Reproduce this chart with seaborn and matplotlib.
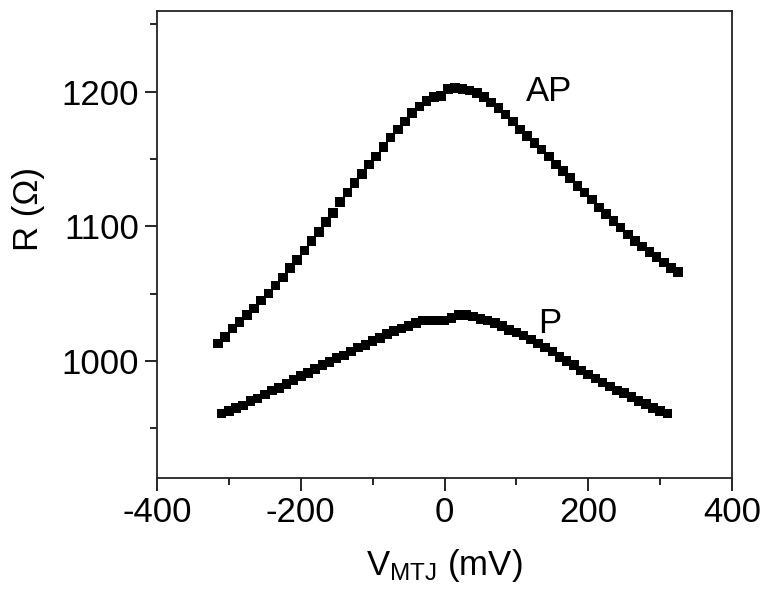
import numpy as np
import pandas as pd
import matplotlib
matplotlib.use("Agg")
import matplotlib.pyplot as plt
import seaborn as sns
from matplotlib.ticker import MultipleLocator

# ---- data ----
v_ap = [-315, -305, -295, -285, -275, -265, -255, -245, -235, -225,
        -215, -205, -195, -185, -175, -165, -155, -145, -135, -125,
        -115, -105, -95, -85, -75, -65, -55, -45, -35, -25,
        -15, -5, 5, 15, 25, 35, 45, 55, 65, 75,
        85, 95, 105, 115, 125, 135, 145, 155, 165, 175,
        185, 195, 205, 215, 225, 235, 245, 255, 265, 275,
        285, 295, 305, 315, 325]
r_ap = [1013, 1018, 1024, 1029, 1034, 1039, 1045, 1050, 1056, 1062,
        1069, 1075, 1082, 1089, 1096, 1103, 1110, 1118, 1125, 1132,
        1139, 1146, 1152, 1159, 1166, 1172, 1178, 1184, 1189, 1193,
        1196, 1197, 1202, 1203, 1202, 1201, 1199, 1196, 1192, 1188,
        1183, 1178, 1172, 1167, 1162, 1157, 1152, 1146, 1141, 1136,
        1130, 1125, 1120, 1114, 1109, 1104, 1099, 1094, 1089, 1085,
        1081, 1077, 1073, 1069, 1066]

v_p = [-310, -300, -290, -280, -270, -260, -250, -240, -230, -220,
       -210, -200, -190, -180, -170, -160, -150, -140, -130, -120,
       -110, -100, -90, -80, -70, -60, -50, -40, -30, -20,
       -10, 0, 10, 20, 30, 40, 50, 60, 70, 80,
       90, 100, 110, 120, 130, 140, 150, 160, 170, 180,
       190, 200, 210, 220, 230, 240, 250, 260, 270, 280,
       290, 300, 310]
r_p = [961, 963, 965, 967, 970, 972, 975, 978, 980, 983,
       986, 989, 991, 994, 997, 999, 1002, 1004, 1007, 1010,
       1012, 1015, 1017, 1020, 1022, 1024, 1026, 1028, 1030, 1030,
       1030, 1030, 1032, 1034, 1034, 1033, 1031, 1030, 1028, 1026,
       1023, 1021, 1019, 1016, 1013, 1010, 1007, 1003, 1000, 997,
       993, 990, 987, 984, 981, 978, 976, 973, 970, 968,
       965, 963, 961]

x_ticks = [-400, -200, 0, 200, 400]
y_ticks = [1000, 1100, 1200]

df = pd.concat([
    pd.DataFrame({"V": v_ap, "R": r_ap, "state": "AP"}),
    pd.DataFrame({"V": v_p, "R": r_p, "state": "P"}),
], ignore_index=True)

sns.set_style("ticks")
plt.rcParams["font.family"] = ["Liberation Sans", "DejaVu Sans"]
plt.rcParams["mathtext.fontset"] = "custom"
plt.rcParams["mathtext.rm"] = "Liberation Sans"
plt.rcParams["mathtext.it"] = "Liberation Sans:italic"
plt.rcParams["text.color"] = "black"
plt.rcParams["axes.labelcolor"] = "black"

fig = plt.figure(figsize=(7.67, 5.99), dpi=100)
ax = fig.add_axes([157/767, 1 - 478/599, (732 - 157)/767, (478 - 11)/599])

sns.scatterplot(data=df, x="V", y="R", style="state", markers={"AP": "s", "P": "s"},
                color="black", edgecolor="none", s=48, legend=False, ax=ax)

ax.set_xlim(-400, 400)
ax.set_ylim(913, 1260)
ax.set_xticks(x_ticks)
ax.set_yticks(y_ticks)
ax.set_xticklabels([str(t) for t in x_ticks])
ax.set_yticklabels([str(t) for t in y_ticks])
ax.xaxis.set_minor_locator(MultipleLocator(100))
ax.yaxis.set_minor_locator(MultipleLocator(50))
ax.tick_params(axis="both", which="major", direction="out", length=9, width=1.2,
               labelsize=25, colors="black", labelcolor="black", pad=4)
ax.tick_params(axis="both", which="minor", direction="out", length=5, width=1.2,
               colors="black")
ax.tick_params(top=False, right=False, which="both")
for sp in ax.spines.values():
    sp.set_visible(True)
    sp.set_linewidth(1.3)
    sp.set_color("#222222")

ax.set_xlabel(r"V$_{\mathrm{MTJ}}$ (mV)", fontsize=25, color="black")
ax.xaxis.set_label_coords(0.5, -0.148)
ax.set_ylabel("R (Ω)", fontsize=25, color="black")
ax.yaxis.set_label_coords(-0.195, 0.575)

ax.text(114, 1200, "AP", fontsize=25, ha="left", va="center", color="black")
ax.text(130, 1028, "P", fontsize=25, ha="left", va="center", color="black")

fig.savefig("out.png", dpi=100)
